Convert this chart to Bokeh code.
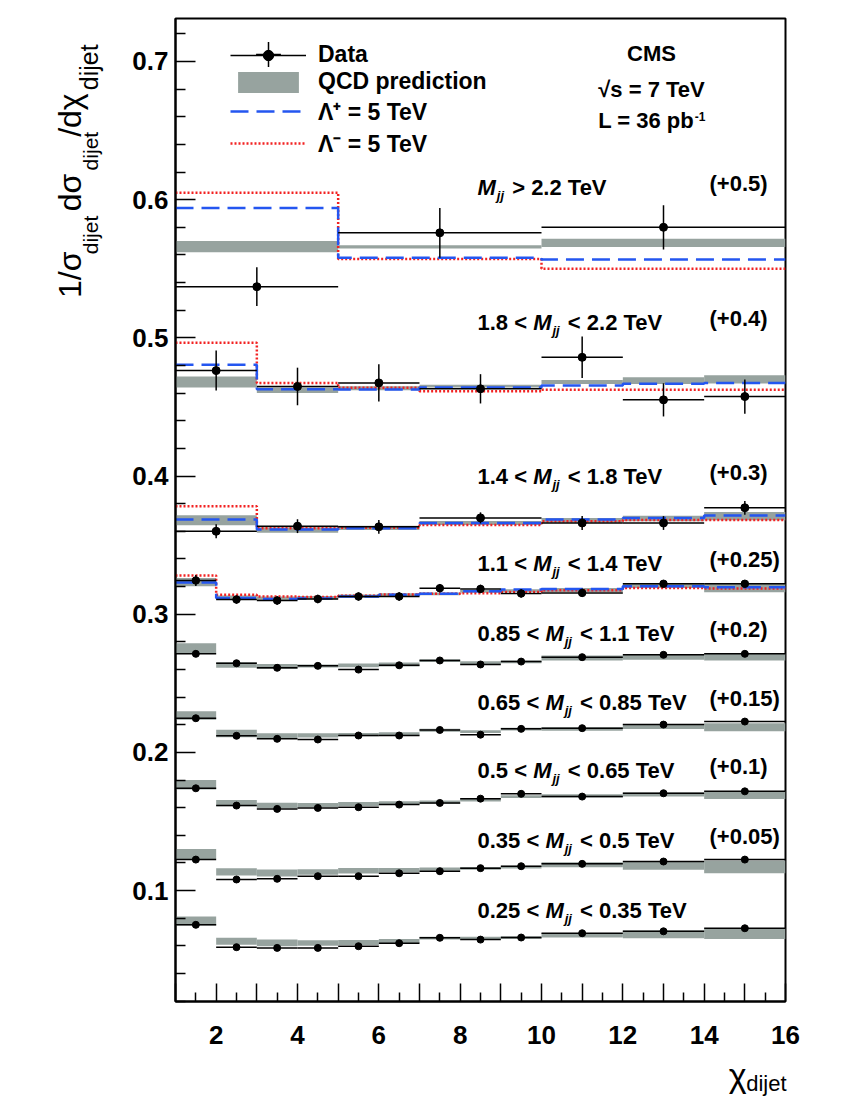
import math
from bokeh.plotting import figure
from bokeh.layouts import column, row
from bokeh.models import (FixedTicker, Label, Legend, LegendItem, Range1d,
                          CustomJSTickFormatter, PrintfTickFormatter)
from bokeh.embed import file_html
from bokeh.resources import INLINE

# ---------------- data (values as displayed, offsets included) ----------------
edges_g1 = [1, 5, 10, 16]
xc_g1 = [3, 7.5, 13]
edges_mid = [1, 3, 5, 7, 10, 12, 14, 16]
xc_mid = [2, 4, 6, 8.5, 11, 13, 15]
edges_low = [1, 2, 3, 4, 5, 6, 7, 8, 9, 10, 12, 14, 16]
xc_low = [1.5, 2.5, 3.5, 4.5, 5.5, 6.5, 7.5, 8.5, 9.5, 11, 13, 15]

# M_jj > 2.2 TeV (+0.5)
data_g1 = [0.537, 0.576, 0.580]
err_g1 = [0.014, 0.018, 0.016]
qcd_g1 = [0.566, 0.5658, 0.5687]
qcdw_g1 = [0.004, 0.0012, 0.003]
lplus_g1 = [0.594, 0.558, 0.5567]
lminus_g1 = [0.605, 0.557, 0.550]

# 1.8 < M_jj < 2.2 TeV (+0.4)
data_g2 = [0.4763, 0.4648, 0.4674, 0.4631, 0.4859, 0.4551, 0.4575]
err_g2 = [0.0145, 0.0136, 0.0135, 0.0106, 0.015, 0.012, 0.0124]
qcd_g2 = [0.468, 0.462, 0.4635, 0.465, 0.468, 0.469, 0.470]
qcdw_g2 = [0.004, 0.002, 0.0015, 0.001, 0.0015, 0.0024, 0.003]
lplus_g2 = [0.4805, 0.4628, 0.4626, 0.4640, 0.4655, 0.4667, 0.4674]
lminus_g2 = [0.4964, 0.4674, 0.4638, 0.4614, 0.4624, 0.4624, 0.4624]

# 1.4 < M_jj < 1.8 TeV (+0.3)
data_g3 = [0.360, 0.3637, 0.3632, 0.3697, 0.366, 0.366, 0.377]
err_g3 = [0.005, 0.005, 0.005, 0.004, 0.005, 0.005, 0.005]
qcd_g3 = [0.368, 0.361, 0.3625, 0.366, 0.368, 0.3693, 0.371]
qcdw_g3 = [0.0036, 0.002, 0.0015, 0.0015, 0.0016, 0.002, 0.003]
lplus_g3 = [0.3685, 0.3613, 0.3622, 0.366, 0.3685, 0.3697, 0.3714]
lminus_g3 = [0.3781, 0.3622, 0.3625, 0.3645, 0.3673, 0.3682, 0.3682]

# 1.1 < M_jj < 1.4 TeV (+0.25)
data_g4 = [0.3244, 0.3106, 0.3099, 0.311, 0.3128, 0.3128, 0.3188, 0.3183, 0.3150, 0.3154, 0.322, 0.322]
err_g4 = [0.004, 0.003, 0.003, 0.003, 0.003, 0.003, 0.003, 0.003, 0.003, 0.003, 0.002, 0.002]
qcd_g4 = [0.3232, 0.3121, 0.3115, 0.312, 0.313, 0.314, 0.3147, 0.3165, 0.317, 0.3175, 0.3207, 0.3189]
qcdw_g4 = [0.003, 0.0015, 0.0013, 0.0012, 0.0012, 0.0012, 0.001, 0.001, 0.001, 0.0015, 0.0017, 0.003]
lplus_g4 = [0.323, 0.3118, 0.311, 0.3113, 0.3128, 0.314, 0.3147, 0.3166, 0.3178, 0.3183, 0.3203, 0.3195]
lminus_g4 = [0.328, 0.314, 0.3128, 0.3125, 0.3133, 0.3142, 0.3147, 0.3152, 0.3161, 0.3174, 0.319, 0.3186]

# 0.85 < M_jj < 1.1 TeV (+0.2)
data_g5 = [0.2713, 0.2645, 0.2612, 0.2626, 0.2599, 0.263, 0.2665, 0.2636, 0.2657, 0.2689, 0.2706, 0.2713]
err_g5 = [0.0015] * 12
qcd_g5 = [0.2754, 0.2632, 0.2622, 0.2625, 0.263, 0.2636, 0.2664, 0.265, 0.2655, 0.2683, 0.2688, 0.2689]
qcdw_g5 = [0.0036, 0.002, 0.0018, 0.001, 0.0014, 0.0015, 0.001, 0.001, 0.001, 0.0018, 0.0018, 0.0024]

# 0.65 < M_jj < 0.85 TeV (+0.15)
data_g6 = [0.2247, 0.212, 0.2098, 0.2093, 0.2122, 0.2122, 0.2162, 0.2128, 0.217, 0.2175, 0.2201, 0.2223]
err_g6 = [0.0015] * 12
qcd_g6 = [0.2267, 0.2136, 0.212, 0.2123, 0.2128, 0.2133, 0.216, 0.215, 0.2168, 0.2169, 0.2187, 0.2181]
qcdw_g6 = [0.0031, 0.0027, 0.0018, 0.0016, 0.0012, 0.0012, 0.001, 0.001, 0.001, 0.0012, 0.0018, 0.0029]

# 0.5 < M_jj < 0.65 TeV (+0.1)
data_g7 = [0.174, 0.1615, 0.1591, 0.1598, 0.1603, 0.1622, 0.1634, 0.1665, 0.170, 0.168, 0.1704, 0.1718]
err_g7 = [0.0015] * 12
qcd_g7 = [0.1766, 0.1633, 0.1615, 0.1618, 0.1626, 0.1635, 0.164, 0.1655, 0.168, 0.1685, 0.1695, 0.1691]
qcdw_g7 = [0.0034, 0.0023, 0.002, 0.0016, 0.0014, 0.0012, 0.0012, 0.001, 0.001, 0.0012, 0.0015, 0.0028]

# 0.35 < M_jj < 0.5 TeV (+0.05)
data_g8 = [0.1224, 0.108, 0.1085, 0.1104, 0.1104, 0.1125, 0.114, 0.1162, 0.1176, 0.1193, 0.121, 0.1224]
err_g8 = [0.0015] * 12
qcd_g8 = [0.1265, 0.1135, 0.1127, 0.1135, 0.1143, 0.1148, 0.1155, 0.116, 0.117, 0.1187, 0.118, 0.1171]
qcdw_g8 = [0.0036, 0.0026, 0.0026, 0.002, 0.002, 0.0015, 0.0011, 0.001, 0.001, 0.0018, 0.003, 0.0046]

# 0.25 < M_jj < 0.35 TeV
data_g9 = [0.0752, 0.059, 0.0585, 0.0585, 0.0597, 0.0619, 0.0658, 0.0645, 0.066, 0.0691, 0.0705, 0.0727]
err_g9 = [0.0015] * 12
qcd_g9 = [0.078, 0.0633, 0.0621, 0.062, 0.0624, 0.0635, 0.0655, 0.0655, 0.066, 0.0677, 0.0682, 0.0688]
qcdw_g9 = [0.0033, 0.0025, 0.0024, 0.002, 0.0018, 0.0014, 0.001, 0.001, 0.001, 0.0016, 0.0028, 0.0038]

mass_lo = ["", "1.8", "1.4", "1.1", "0.85", "0.65", "0.5", "0.35", "0.25"]
mass_hi = ["2.2", "2.2", "1.8", "1.4", "1.1", "0.85", "0.65", "0.5", "0.35"]
offset_text = ["(+0.5)", "(+0.4)", "(+0.3)", "(+0.25)", "(+0.2)", "(+0.15)", "(+0.1)", "(+0.05)", ""]

y_major = [0.1, 0.2, 0.3, 0.4, 0.5, 0.6, 0.7]
y_minor = [0.02, 0.04, 0.06, 0.08, 0.12, 0.14, 0.16, 0.18, 0.22, 0.24, 0.26, 0.28,
           0.32, 0.34, 0.36, 0.38, 0.42, 0.44, 0.46, 0.48, 0.52, 0.54, 0.56, 0.58,
           0.62, 0.64, 0.66, 0.68, 0.72]
x_major = list(range(1, 17))
x_minor = [1.5, 2.5, 3.5, 4.5, 5.5, 6.5, 7.5, 8.5, 9.5, 10.5, 11.5, 12.5, 13.5, 14.5, 15.5]

# ---------------- layout (page pixels) ----------------
XMIN, XMAX = 1.0, 16.0
YMIN, YMAX = 0.0197, 0.7311
FL, FR, FT, FB = 175, 785, 18, 1001   # frame edges on the page
LEFT_W = 112                           # strip holding the y title
MAIN_W = 728
MAIN_H = 1055
BOT_H = 43
MID = 0.35                             # baseline -> text middle, in em

GREY = "#97a39f"
BLUE = "#2456f0"
RED = "#f22222"
FONT = "Liberation Sans"

p = figure(width=MAIN_W, height=MAIN_H, x_range=Range1d(XMIN, XMAX), y_range=Range1d(YMIN, YMAX),
           output_backend="svg", toolbar_location=None,
           min_border_left=FL - LEFT_W, min_border_right=LEFT_W + MAIN_W - FR,
           min_border_top=FT, min_border_bottom=MAIN_H - FB)
p.xgrid.visible = False
p.ygrid.visible = False
p.outline_line_color = "black"
p.outline_line_width = 2
p.background_fill_color = "white"
p.border_fill_color = "white"

for ax in (p.xaxis[0], p.yaxis[0]):
    ax.axis_line_width = 2
    ax.major_tick_line_width = 1.5
    ax.minor_tick_line_width = 1.5
    ax.major_tick_out = 0
    ax.minor_tick_out = 0
    ax.major_label_text_font = FONT
    ax.major_label_text_font_style = "bold"
    ax.major_label_text_font_size = "26px"
    ax.major_label_text_color = "black"
p.yaxis.ticker = FixedTicker(ticks=y_major, minor_ticks=y_minor)
p.yaxis.major_tick_in = 20
p.yaxis.minor_tick_in = 10
p.yaxis.formatter = PrintfTickFormatter(format="%.1f")
p.yaxis.major_label_standoff = 7
p.xaxis.ticker = FixedTicker(ticks=x_major, minor_ticks=x_minor)
p.xaxis.major_tick_in = 18
p.xaxis.minor_tick_in = 9
p.xaxis.formatter = CustomJSTickFormatter(code="return (tick % 2 == 0) ? String(tick) : '';")
p.xaxis.major_label_standoff = 24

groups = [
    (edges_g1, xc_g1, data_g1, err_g1, qcd_g1, qcdw_g1, lplus_g1, lminus_g1, 8),
    (edges_mid, xc_mid, data_g2, err_g2, qcd_g2, qcdw_g2, lplus_g2, lminus_g2, 8),
    (edges_mid, xc_mid, data_g3, err_g3, qcd_g3, qcdw_g3, lplus_g3, lminus_g3, 8),
    (edges_low, xc_low, data_g4, err_g4, qcd_g4, qcdw_g4, lplus_g4, lminus_g4, 7.5),
    (edges_low, xc_low, data_g5, err_g5, qcd_g5, qcdw_g5, None, None, 7),
    (edges_low, xc_low, data_g6, err_g6, qcd_g6, qcdw_g6, None, None, 7),
    (edges_low, xc_low, data_g7, err_g7, qcd_g7, qcdw_g7, None, None, 7),
    (edges_low, xc_low, data_g8, err_g8, qcd_g8, qcdw_g8, None, None, 7),
    (edges_low, xc_low, data_g9, err_g9, qcd_g9, qcdw_g9, None, None, 7),
]

leg_r = {}
for gi, (edges, xc, d, e, q, qw, lp, lm, msize) in enumerate(groups):
    lo = edges[:-1]
    hi = edges[1:]
    rb = p.quad(left=lo, right=hi,
                bottom=[a - b for a, b in zip(q, qw)], top=[a + b for a, b in zip(q, qw)],
                fill_color=GREY, line_color=None)
    if lm is not None:
        rr = p.step(x=edges, y=lm + [lm[-1]], mode="after", line_color=RED,
                    line_width=2.5, line_dash="2 2")
        rbl = p.step(x=edges, y=lp + [lp[-1]], mode="after", line_color=BLUE,
                     line_width=2.5, line_dash="18 8")
    rh = p.segment(x0=lo, x1=hi, y0=d, y1=d, line_color="black", line_width=1.5)
    p.segment(x0=xc, x1=xc, y0=[a - b for a, b in zip(d, e)], y1=[a + b for a, b in zip(d, e)],
              line_color="black", line_width=1.5)
    rp = p.scatter(x=xc, y=d, size=msize, marker="circle", fill_color="black", line_color="black")
    if gi == 0:
        leg_r = dict(band=rb, red=rr, blue=rbl, hline=rh, pts=rp)

legend = Legend(items=[
    LegendItem(label="Data", renderers=[leg_r["hline"], leg_r["pts"]]),
    LegendItem(label="QCD prediction", renderers=[leg_r["band"]]),
    LegendItem(label="Λ⁺ = 5 TeV", renderers=[leg_r["blue"]]),
    LegendItem(label="Λ⁻ = 5 TeV", renderers=[leg_r["red"]]),
], location=(55, 842), orientation="vertical", glyph_width=76, glyph_height=26,
    label_height=26, spacing=0, padding=0, margin=0, label_standoff=12,
    border_line_color=None, background_fill_alpha=0,
    label_text_font=FONT, label_text_font_style="bold", label_text_font_size="23px",
    label_text_color="black")
p.add_layout(legend)

# error-bar sample for the "Data" legend entry: zero-size markers on the data points
# (invisible in the plot), drawn large only in this second, label-less legend
rx = p.scatter(x=xc_g1, y=data_g1, marker="cross", size=0, line_color="black", line_width=1.5)
legend_bar = Legend(items=[LegendItem(label=" ", renderers=[rx])],
                    location=(55, 1001 - 54 - 31), orientation="vertical",
                    glyph_width=76, glyph_height=62, label_height=62, padding=0, margin=0,
                    spacing=0, label_standoff=0, border_line_color=None,
                    background_fill_alpha=0, label_text_font_size="2px")
p.add_layout(legend_bar)


# ---------------- texts ----------------
def X(px):
    return XMIN + (px - FL) * (XMAX - XMIN) / (FR - FL)


def Y(py):
    return YMIN + (FB - py) * (YMAX - YMIN) / (FB - FT)


def txt(fig, s, x, y, size, style="bold", align="left", angle=0.0):
    fig.add_layout(Label(x=x, y=y, text=s, text_font=FONT, text_font_size=f"{size}px",
                         text_font_style=style, text_align=align, text_baseline="middle",
                         angle=angle, text_color="black"))


def ptxt(s, px, base, size, style="bold", align="left"):
    # base = wanted baseline (page px); the label is anchored at the text middle
    txt(p, s, X(px), Y(base - MID * size), size, style, align)


AB = {c: 556 for c in "0123456789"}
AB.update({'.': 278, ' ': 278, '<': 584, '>': 584, 'T': 611, 'e': 556, 'V': 667, 'M': 833,
           'j': 278, '(': 333, ')': 333, '+': 584, 'L': 611, '=': 584, 'p': 611, 'b': 611,
           's': 556, '-': 333})


def tw(s, size):
    return sum(AB.get(c, 556) for c in s) * size / 1000.0


mass_base = [195, 330, 484, 571, 641, 710, 778, 848, 918]
F, FS = 22, 13
for lo_s, hi_s, off_s, yb in zip(mass_lo, mass_hi, offset_text, mass_base):
    x = 477
    if lo_s:
        pre = lo_s + " <"
        ptxt(pre, x, yb, F)
        x += tw(pre + " ", F)
        post = "< " + hi_s + " TeV"
    else:
        post = "> " + hi_s + " TeV"
    ptxt("M", x, yb, F, style="bold italic")
    x += tw("M", F) + 1
    ptxt("jj", x, yb + 5, FS, style="bold italic")
    x += tw("jj", FS) + 2 + tw(" ", F)
    ptxt(post, x, yb, F)
    if off_s:
        ptxt(off_s, 709, yb - 4, F)

# CMS block
ptxt("CMS", 651, 61, 22, align="center")
ptxt("√s = 7 TeV", 651, 97, 22, align="center")
wl = tw("L = 36 pb", 22)
ws = tw("-1", 12)
x0 = 651 - (wl + ws) / 2
ptxt("L = 36 pb", x0, 128, 22)
ptxt("-1", x0 + wl + 0.5, 120, 12)


# ---------------- axis titles (separate strips, page pixel coordinates) ----------------
def strip(w, h, ytop):
    f = figure(width=w, height=h, x_range=Range1d(0, w), y_range=Range1d(ytop + h, ytop),
               output_backend="svg", toolbar_location=None, x_axis_type=None, y_axis_type=None,
               min_border=0, min_border_left=0, min_border_right=0, min_border_top=0,
               min_border_bottom=0)
    f.outline_line_color = None
    f.background_fill_color = "white"
    f.border_fill_color = "white"
    f.grid.visible = False
    return f


fy = strip(LEFT_W, MAIN_H, 0)
A = math.pi / 2
# (text, size, baseline x, start y)
ytitle = [("1/σ", 32, 81, 300), ("dijet", 21, 97, 253), ("dσ", 32, 81, 207),
          ("dijet", 21, 97, 163), ("/dχ", 32, 81, 127), ("dijet", 25, 97, 77)]
for s, size, bx, sy in ytitle:
    txt(fy, s, bx - MID * size, sy, size, style="normal", angle=A)

fx = strip(LEFT_W + MAIN_W, BOT_H, MAIN_H)
txt(fx, "dijet", 786, 1091 - MID * 22, 22, style="normal", align="right")
txt(fx, "χ", 746, 1086 - MID * 34, 34, style="normal", align="right")

layout = column(row(fy, p), fx)
open("out.html", "w").write(file_html(layout, INLINE))
